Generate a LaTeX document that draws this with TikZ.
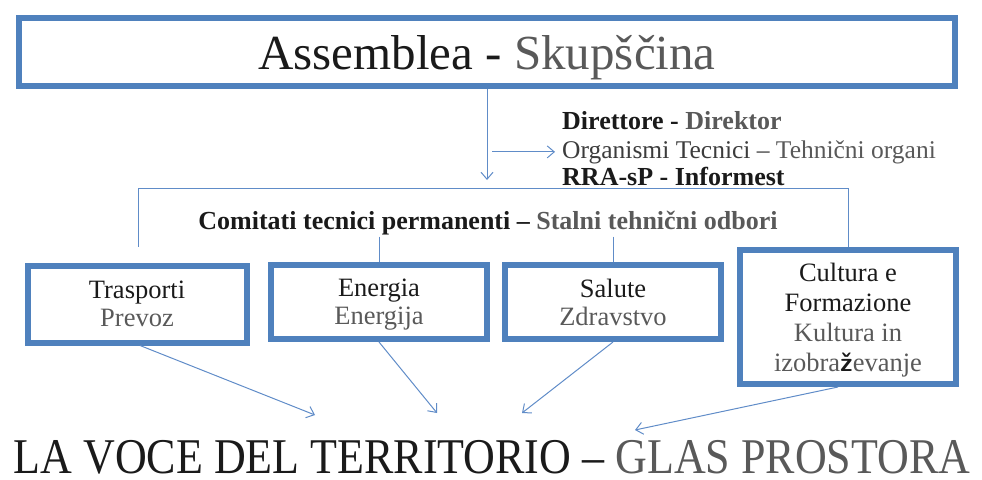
\documentclass[tikz,border=0pt]{standalone}
\usepackage{fontspec}
\setmainfont{Liberation Serif}
\newfontfamily\condfont[FakeStretch=0.88]{Liberation Serif}
\usetikzlibrary{positioning,arrows.meta}
\definecolor{colorbox} {RGB}{79 ,129,189}
\definecolor{colorline}{RGB}{96 ,140,200}
\definecolor{colorit}  {RGB}{26 ,26 ,26 }
\definecolor{colorsl}  {RGB}{89 ,89 ,89 }
\newcommand{\nodepth}[1]{\raisebox{0pt}[\height][0pt]{#1}}

\begin{document}
\begin{tikzpicture}[
    x=1pt, y=-1pt,
    base/.style={draw=colorbox,line width=6pt,align=center,inner sep=0pt,text=colorit,
        font={\fontsize{26.5}{28}\selectfont}},
    unit/.style={base,minimum width=216pt,minimum height=74pt},
    txt/.style={text=colorit,inner sep=2pt,font={\fontsize{25.5}{28}\selectfont}},
    link/.style={colorline,line width=1pt},
    arr/.style={link,-{Straight Barb[length=7pt,width=12pt]}},
]
    \useasboundingbox (0,0) rectangle (982,479);

    \node[base,minimum width=936pt,minimum height=68pt,text depth=0pt,
          font={\fontsize{49}{55}\selectfont}] at (487,52) (assem)
        {Assemblea - \textcolor{colorsl}{Skupščina}};

    \node[txt,anchor=base west,font={\fontsize{26}{28}\selectfont\bfseries}] at (560,129) (dir)
        {Direttore - \textcolor{colorsl}{Direktor}};
    \node[txt,anchor=base west,text=colorsl] at (560,158) (org)
        {\textcolor{colorit!85}{Organismi Tecnici –} Tehnični organi};
    \node[txt,anchor=base west,font={\fontsize{26}{28}\selectfont\bfseries}] at (560,185) (rra)
        {RRA-sP - Informest};

    \node[txt,anchor=base,font={\fontsize{26}{28}\selectfont\bfseries}] at (488,229) (comit)
        {Comitati tecnici permanenti – \textcolor{colorsl}{Stalni tehnični odbori}};

    \node[unit,minimum width=219pt,minimum height=77pt] at (137,304) (trasp)
        {Trasporti\\\textcolor{colorsl}{Prevoz}};
    \node[unit] at (379,302) (energ) {Energia\\\textcolor{colorsl}{\nodepth{Energija}}};
    \node[unit] at (613,302) (salute) {Salute\\\textcolor{colorsl}{Zdravstvo}};
    \node[unit,minimum height=134pt,font={\fontsize{26.5}{30}\selectfont}] at (848,317) (cult)
        {Cultura e\\Formazione\\\textcolor{colorsl}{Kultura in}\\
         \textcolor{colorsl}{\nodepth{izobra{\color{colorit}\sffamily\bfseries ž}evanje}}};

    \node[txt,inner sep=0pt,anchor=base,font={\condfont\fontsize{50}{54}\selectfont}] at (492,473) (voce)
        {LA VOCE DEL TERRITORIO – \textcolor{colorsl}{GLAS PROSTORA}};

    \coordinate (split) at (487,180);
    \coordinate (voce1) at (315,415);
    \coordinate (voce2) at (437,413);
    \coordinate (voce3) at (522,413);
    \coordinate (voce4) at (635,430);

    \draw[arr] (assem.south) -- (split);
    \draw[arr] ([xshift=5pt]assem.south |- org.west) -- ([xshift=-5pt]org.west);
    \draw[link] ([xshift=1pt,yshift=16pt]trasp.north) |- ([yshift=59pt]cult.north) -- (cult.north);
    \draw[link] (comit.south -| energ.north) -- (energ.north);
    \draw[link] (comit.south -| salute.north) -- (salute.north);

    \draw[arr] ([xshift=3pt]trasp.south) -- (voce1);
    \draw[arr] (energ.south) -- (voce2);
    \draw[arr] (salute.south) -- (voce3);
    \draw[arr] ([xshift=-10pt]cult.south) -- (voce4);

\end{tikzpicture}
\end{document}
